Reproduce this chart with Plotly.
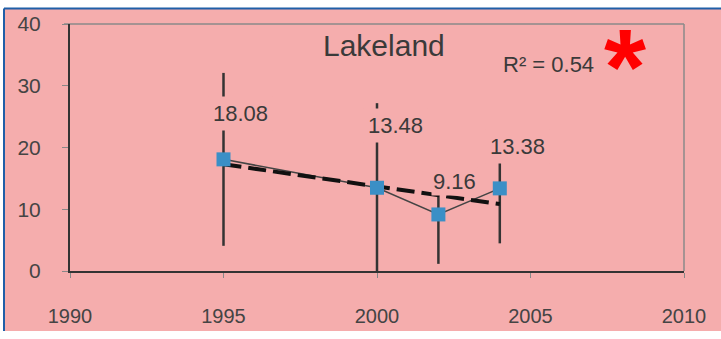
import numpy as np
import plotly.graph_objects as go

# Survey years and mean values with their error ranges
years = [1995, 2000, 2002, 2004]
values = [18.08, 13.48, 9.16, 13.38]
err_plus = [14.0, 13.7, 5.5, 8.9]
err_minus = [14.0, 13.7, 8.0, 8.9]
value_labels = ["18.08", "13.48", "9.16", "13.38"]

x_ticks = [1990, 1995, 2000, 2005, 2010]
y_ticks = [0, 10, 20, 30, 40]

title_text = "Lakeland"
r2_text = "R\u00b2 = 0.54"

# label offsets (px) from each point, and box padding around each label
label_dx = [17, 18, 16, 18]
label_dy = [46, 62, 33, 42]
label_pad = [4, 4, 1, 4]

W, H = 721, 339
ML, MR, MT, MB = 70, 37, 24, 60
PW, PH = W - ML - MR, H - MT - MB

def px_x(p):
    return (p - ML) / PW

def px_y(p):
    return (H - MB - p) / PH

BG = "#f5adad"
INK = "#3a3a3a"
FONT = "Liberation Sans, Arial, sans-serif"

# linear trend over the survey points
slope, intercept = np.polyfit(years, values, 1)
trend_x = [years[0], years[-1]]
trend_y = [slope * x + intercept for x in trend_x]

fig = go.Figure()

fig.add_trace(go.Scatter(
    x=years, y=values, mode="lines",
    line=dict(color="#444444", width=1.5),
    error_y=dict(type="data", symmetric=False, array=err_plus, arrayminus=err_minus,
                 color="#333333", thickness=2.5, width=0),
    hoverinfo="skip", showlegend=False, cliponaxis=False,
))

fig.add_trace(go.Scatter(
    x=trend_x, y=trend_y, mode="lines",
    line=dict(color="#111111", width=4, dash="18px,7px"),
    showlegend=False,
))

fig.add_trace(go.Scatter(
    x=years, y=values, mode="markers",
    marker=dict(symbol="square", size=14, color="#3b8fc6"),
    showlegend=False, cliponaxis=False,
))

annotations = []
for x, y, t, dx, dy, pad in zip(years, values, value_labels, label_dx, label_dy, label_pad):
    annotations.append(dict(
        x=x, y=y, xref="x", yref="y", text=t, showarrow=False,
        xanchor="center", yanchor="middle",
        xshift=dx, yshift=dy, bgcolor=BG, borderpad=pad,
        font=dict(family=FONT, size=22, color=INK),
    ))

annotations += [
    dict(x=px_x(384), y=px_y(46), xref="paper", yref="paper", text=title_text,
         xanchor="center", yanchor="middle", showarrow=False,
         font=dict(family=FONT, size=30, color=INK)),
    dict(x=px_x(548), y=px_y(66), xref="paper", yref="paper", text=r2_text,
         xanchor="center", yanchor="middle", showarrow=False,
         font=dict(family=FONT, size=22, color=INK)),
    dict(x=px_x(625), y=px_y(3), xref="paper", yref="paper", text="<b>*</b>",
         xanchor="center", yanchor="top", showarrow=False,
         font=dict(family=FONT, size=108, color="#ff0000")),
]

shapes = [
    # page background with blue frame edges
    dict(type="rect", xref="paper", yref="paper", x0=px_x(4), x1=px_x(W + 2),
         y0=px_y(H + 2), y1=px_y(8), fillcolor=BG, line=dict(width=0), layer="below"),
    dict(type="line", xref="paper", yref="paper", x0=px_x(4), x1=px_x(W + 2),
         y0=px_y(8), y1=px_y(8), line=dict(color="#1f5fa8", width=2), layer="below"),
    dict(type="line", xref="paper", yref="paper", x0=px_x(4), x1=px_x(4),
         y0=px_y(8), y1=px_y(H + 2), line=dict(color="#1f5fa8", width=2), layer="below"),
    # plot area border (top and right)
    dict(type="line", xref="paper", yref="paper", x0=px_x(64), x1=1, y0=1, y1=1,
         line=dict(color="#8a8a8a", width=1.5), layer="below"),
    dict(type="line", xref="paper", yref="paper", x0=1, x1=1, y0=0, y1=1,
         line=dict(color="#8a8a8a", width=1.5), layer="below"),
]

fig.update_layout(
    width=W, height=H,
    margin=dict(l=ML, r=MR, t=MT, b=MB, pad=0),
    paper_bgcolor="white", plot_bgcolor="rgba(0,0,0,0)",
    annotations=annotations, shapes=shapes,
    showlegend=False,
)

fig.update_xaxes(
    range=[1990, 2010], tickvals=x_ticks, ticktext=[str(v) for v in x_ticks],
    showgrid=False, zeroline=False, showline=True, linecolor="#333333", linewidth=2,
    ticks="outside", ticklen=5, tickcolor="#888888",
    tickfont=dict(family=FONT, size=20, color="#444444"), ticklabelstandoff=21,
)
fig.update_yaxes(
    range=[0, 40], tickvals=y_ticks, ticktext=[str(v) for v in y_ticks],
    showgrid=False, zeroline=False, showline=True, linecolor="#333333", linewidth=2,
    ticks="outside", ticklen=6, tickcolor="#888888",
    tickfont=dict(family=FONT, size=21, color="#444444"), ticklabelstandoff=17,
)

fig.write_html("out.html")
